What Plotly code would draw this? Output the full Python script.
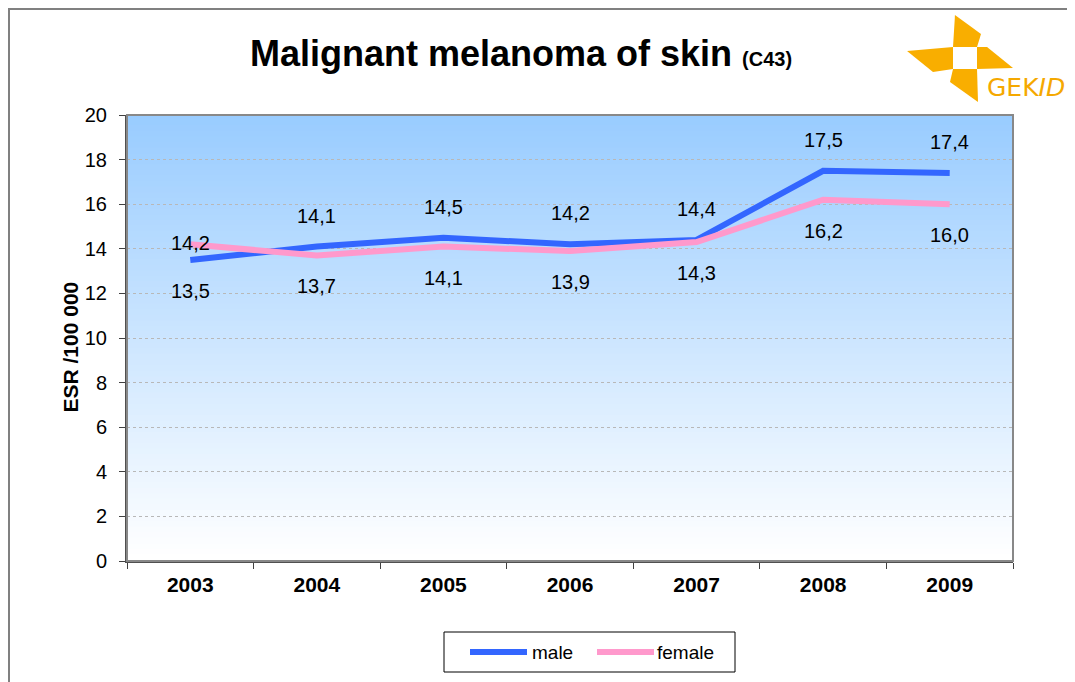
import plotly.graph_objects as go

# data
years = ["2003", "2004", "2005", "2006", "2007", "2008", "2009"]
male = [13.5, 14.1, 14.5, 14.2, 14.4, 17.5, 17.4]
female = [14.2, 13.7, 14.1, 13.9, 14.3, 16.2, 16.0]
y_ticks = [0, 2, 4, 6, 8, 10, 12, 14, 16, 18, 20]

# where the value labels sit relative to the line
male_label_pos = ["below", "above", "above", "above", "above", "above", "above"]
female_label_pos = ["center", "below", "below", "below", "below", "below", "below"]

MALE_COL, FEMALE_COL = "#3366FF", "#FF99CC"

# page has an 8px body margin, so work in screen pixels minus 8
OFF = 8
W, H = 1075 - OFF, 682 - OFF
L, R, T, B = 127 - OFF, 1013 - OFF, 115 - OFF, 561 - OFF   # plot area
FONT = "Arial, Liberation Sans, sans-serif"


def px(x, y):
    # screen pixel -> paper coordinates
    return (x - OFF - L) / (R - L), (B - (y - OFF)) / (B - T)


fig = go.Figure()
fig.add_trace(go.Scatter(x=years, y=male, mode="lines", name="male",
                         line=dict(color=MALE_COL, width=6)))
fig.add_trace(go.Scatter(x=years, y=female, mode="lines", name="female",
                         line=dict(color=FEMALE_COL, width=6)))

shift = {"above": 31, "below": -31, "center": 1}
annotations = []
for vals, pos in ((male, male_label_pos), (female, female_label_pos)):
    for i, (v, p) in enumerate(zip(vals, pos)):
        annotations.append(dict(x=i, y=v, xref="x", yref="y", showarrow=False,
                                text=f"{v:.1f}".replace(".", ","), yshift=shift[p],
                                font=dict(size=20, color="black", family=FONT)))

# y axis title
ax, ay = px(56, 347)
annotations.append(dict(x=ax, y=ay, xref="paper", yref="paper", showarrow=False,
                        text="<b>ESR /100 000</b>", textangle=-90,
                        font=dict(size=21, color="black", family=FONT)))

# GEKID logo text
gx, gy = px(985, 87)
annotations.append(dict(x=gx, y=gy, xref="paper", yref="paper", showarrow=False,
                        text="GEK<i>ID</i>", xanchor="left", yanchor="middle",
                        font=dict(size=25, color="#F5A800", family="DejaVu Sans")))

shapes = []
# vertical gradient background of the plot area
n = 80
c0, c1 = (153, 204, 255), (255, 255, 255)
for i in range(n):
    t = i / (n - 1)
    col = tuple(round(c0[k] + (c1[k] - c0[k]) * t) for k in range(3))
    shapes.append(dict(type="rect", xref="x domain", yref="y domain", layer="below",
                       x0=0, x1=1, y0=1 - (i + 1) / n, y1=1 - i / n + 0.002,
                       fillcolor="rgb(%d,%d,%d)" % col, line=dict(width=0)))

# plot area frame (top / right lighter)
shapes.append(dict(type="rect", xref="x domain", yref="y domain", x0=0, x1=1, y0=0, y1=1,
                   line=dict(color="#888888", width=2), layer="above"))

# outer chart border
ox0, oy0 = px(OFF + 1, OFF + 1)
ox1, oy1 = px(1100, 720)
shapes.append(dict(type="rect", xref="paper", yref="paper", x0=ox0, x1=ox1, y0=oy1, y1=oy0,
                   line=dict(color="#808080", width=2)))

# legend box and entries
lx0, ly0 = px(444, 632)
lx1, ly1 = px(735, 672)
shapes.append(dict(type="rect", xref="paper", yref="paper", x0=lx0, x1=lx1, y0=ly1, y1=ly0,
                   line=dict(color="black", width=1), fillcolor="white"))
for name, col, x_line, x_text in (("male", MALE_COL, 470, 530), ("female", FEMALE_COL, 597, 655)):
    a0, yy = px(x_line, 652)
    a1, _ = px(x_line + 57, 652)
    shapes.append(dict(type="line", xref="paper", yref="paper", x0=a0, x1=a1, y0=yy, y1=yy,
                       line=dict(color=col, width=6)))
    tx, _ = px(x_text, 652)
    annotations.append(dict(x=tx, y=yy, xref="paper", yref="paper", showarrow=False,
                            text=name, xanchor="left", yanchor="middle",
                            font=dict(size=19, color="black", family=FONT)))

# GEKID pinwheel
blades = [
    [(955, 15), (981, 34), (977, 47), (953, 47)],
    [(977, 47), (987, 47), (1013, 68), (977, 69)],
    [(953, 69), (977, 69), (978, 102), (950, 82)],
    [(907, 51), (953, 47), (953, 69), (933, 72)],
]
for blade in blades:
    pts = [px(x, y) for x, y in blade]
    path = "M " + " L ".join(f"{a:.4f},{b:.4f}" for a, b in pts) + " Z"
    shapes.append(dict(type="path", xref="paper", yref="paper", path=path,
                       fillcolor="#F9AE00", line=dict(width=0)))

fig.update_layout(
    width=W, height=H,
    margin=dict(l=L, r=W - R, t=T, b=H - B),
    paper_bgcolor="white",
    plot_bgcolor="white",
    font=dict(family=FONT, color="black"),
    title=dict(text="<b>Malignant melanoma of skin <span style='font-size:20px'>(C43)</span></b>",
               x=(521 - OFF) / W, xanchor="center", y=1 - (53 - OFF) / H, yanchor="middle",
               font=dict(size=36, color="black", family=FONT)),
    showlegend=False,
    annotations=annotations,
    shapes=shapes,
)

fig.update_xaxes(type="category", range=[-0.5, 6.5], tickson="boundaries",
                 ticks="outside", ticklen=6, tickcolor="#404040", tickwidth=1,
                 showline=True, linecolor="#505050", linewidth=2,
                 showgrid=False, tickfont=dict(size=21, family=FONT),
                 ticklabelstandoff=4, tickprefix="<b>", ticksuffix="</b>")
fig.update_yaxes(range=[0, 20], tickvals=y_ticks, ticks="outside", ticklen=6,
                 tickcolor="#404040", showline=True, linecolor="#505050", linewidth=2,
                 showgrid=True, gridcolor="#B8B8B8", griddash="dot", gridwidth=1,
                 zeroline=False, tickfont=dict(size=20, family=FONT),
                 ticklabelstandoff=8)

fig.write_html("out.html")
